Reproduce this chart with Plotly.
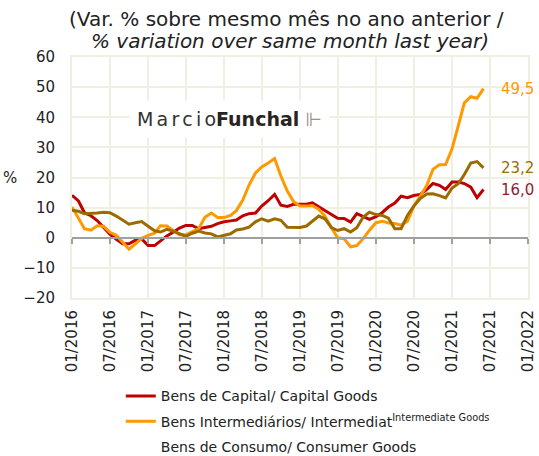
import plotly.graph_objects as go
import pandas as pd

months = pd.date_range("2016-01-01", periods=66, freq="MS")

capital = [14.1, 12.2, 8.3, 7.3, 5.7, 3.5, 1.2, -0.5, -2.0, -2.0, -0.8, -0.4,
           -2.6, -2.6, -1.0, 0.6, 1.8, 3.2, 4.1, 4.1, 3.0, 3.5, 3.8, 4.7,
           5.3, 5.6, 5.9, 7.3, 8.0, 8.2, 10.5, 12.3, 14.4, 10.8, 10.4, 11.1,
           11.2, 11.1, 11.6, 10.3, 9.0, 7.6, 6.5, 6.4, 5.2, 8.0, 7.1, 6.1,
           7.0, 8.4, 10.2, 11.5, 13.8, 13.3, 14.0, 14.4, 16.0, 18.0, 17.4, 16.0,
           18.5, 18.5, 18.0, 16.8, 13.3, 16.0]

intermediate = [10.2, 6.5, 3.0, 2.5, 4.0, 3.8, 1.8, 0.8, -1.5, -3.8, -2.0, -0.2,
                0.8, 1.5, 4.0, 3.9, 2.4, 1.0, 1.0, 2.0, 3.0, 6.8, 8.2, 6.7,
                6.7, 7.4, 9.0, 12.5, 17.5, 21.5, 23.5, 24.8, 26.3, 20.5, 15.5, 12.0,
                10.5, 10.5, 10.7, 9.5, 7.2, 3.3, 0.0, -0.3, -3.0, -2.6, -0.3, 2.5,
                5.0, 5.5, 4.9, 4.7, 4.2, 5.5, 10.5, 13.8, 17.3, 22.7, 24.2, 24.3,
                29.5, 37.5, 44.8, 46.8, 46.3, 49.5]

consumer = [9.1, 8.8, 8.0, 8.0, 8.2, 8.5, 8.3, 7.2, 5.8, 4.5, 5.0, 5.4,
            3.8, 2.3, 1.9, 2.8, 2.2, 1.3, 0.5, 1.5, 2.2, 1.6, 1.3, 0.3,
            0.8, 1.3, 2.6, 2.9, 3.5, 5.3, 6.3, 5.5, 6.3, 5.8, 3.5, 3.5,
            3.4, 3.9, 5.5, 7.2, 6.3, 3.4, 2.4, 3.0, 1.9, 3.3, 6.9, 8.5,
            7.7, 7.4, 6.5, 3.0, 3.0, 7.5, 10.5, 13.0, 14.5, 14.6, 14.0, 13.2,
            16.5, 18.0, 21.0, 24.8, 25.3, 23.2]

names = ["Bens de Capital/ Capital Goods",
         "Bens Intermediários/ Intermediat<sup>Intermediate Goods</sup>",
         "Bens de Consumo/ Consumer Goods"]
colors = ["#c00000", "#ff9900", "#9c6b00"]
label_colors = ["#8e1c33", "#ff9900", "#9c6b00"]
series = [capital, intermediate, consumer]

title_lines = ["(Var. % sobre mesmo mês no ano anterior /",
               "<i>% variation over same month last year)</i>"]

FONT = "DejaVu Sans"
GRID = "#efefe2"
TXT = "#222222"

fig = go.Figure()
for i, (vals, name, col) in enumerate(zip(series, names, colors)):
    fig.add_trace(go.Scatter(x=months, y=vals, mode="lines", name=name,
                             line=dict(color=col, width=3),
                             showlegend=i < 2, legendgroup=f"g{i}"))
# consumer legend entry shown as text only (as in reference)
fig.add_trace(go.Scatter(x=[months[0]], y=[None], mode="lines", name=names[2],
                         line=dict(color="rgba(0,0,0,0)", width=3),
                         showlegend=True, legendgroup="g2", hoverinfo="skip"))
# invisible trace carrying the zero-line tick axis
fig.add_trace(go.Scatter(x=[months[0]], y=[None], xaxis="x2", showlegend=False,
                         hoverinfo="skip", mode="lines"))

# end-of-series value labels
for vals, col in zip(series, label_colors):
    fig.add_annotation(x=months[-1], y=vals[-1], text=f"{vals[-1]:.1f}".replace(".", ","),
                       xanchor="left", yanchor="middle", xshift=16, showarrow=False,
                       font=dict(family=FONT, size=15, color=col))

# title (two lines)
fig.add_annotation(x=0.471, y=1.159, xref="paper", yref="paper", text=title_lines[0],
                   showarrow=False, xanchor="center", yanchor="middle",
                   font=dict(family=FONT, size=20, color=TXT))
fig.add_annotation(x=0.477, y=1.068, xref="paper", yref="paper", text=title_lines[1],
                   showarrow=False, xanchor="center", yanchor="middle",
                   font=dict(family=FONT, size=20, color=TXT))

fig.add_annotation(x=-0.135, y=0.5, xref="paper", yref="paper", text="%",
                   showarrow=False, xanchor="center", yanchor="middle",
                   font=dict(family=FONT, size=15, color=TXT))

# logo
sp = "\u2006"
fig.add_annotation(x=0.345, y=0.742, xref="paper", yref="paper",
                   xanchor="center", yanchor="middle",
                   text=f"<span style='color:#333'>{sp.join('Marcio')}</span><b style='color:#2a2420'>Funchal</b> <span style='color:#a09088'>\u22a9</span>",
                   showarrow=False, bgcolor="white", borderpad=7,
                   font=dict(family=FONT, size=19, color="#333"))

fig.update_layout(
    width=539, height=456,
    margin=dict(l=72, r=11, t=57, b=158, autoexpand=False),
    paper_bgcolor="white", plot_bgcolor="white",
    font=dict(family=FONT, size=15, color=TXT),
    xaxis=dict(type="date", range=["2016-01-01", "2022-01-01"], dtick="M6",
               tick0="2016-01-01", tickformat="%m/%Y", tickangle=-90,
               showgrid=True, gridcolor=GRID, gridwidth=2,
               showline=True, linecolor=GRID, linewidth=2, mirror=True,
               ticks="outside", ticklen=4, tickcolor="rgba(0,0,0,0)", zeroline=False,
               tickfont=dict(family=FONT, size=15, color=TXT)),
    xaxis2=dict(type="date", range=["2016-01-01", "2022-01-01"], dtick="M6",
                tick0="2016-01-01", overlaying="x", anchor="free", position=0.25,
                showticklabels=False, showgrid=False, ticks="outside", ticklen=5,
                tickcolor="#a0a0a0", tickwidth=2,
                showline=True, linecolor="#a0a0a0", linewidth=2, zeroline=False),
    yaxis=dict(range=[-20, 60], dtick=10, showgrid=True, gridcolor=GRID, gridwidth=2,
               showline=True, linecolor=GRID, linewidth=2, mirror=True,
               zeroline=False, ticks="outside", ticklen=12, tickcolor="rgba(0,0,0,0)",
               tickfont=dict(family=FONT, size=15, color=TXT)),
    legend=dict(x=0.107, y=-0.342, xanchor="left", yanchor="top",
                font=dict(family=FONT, size=14, color=TXT),
                tracegroupgap=4, bgcolor="rgba(0,0,0,0)"),
    showlegend=True,
)

fig.write_html("out.html", config={"displayModeBar": False},
               post_script="document.body.style.margin='0';document.body.style.padding='0';")
